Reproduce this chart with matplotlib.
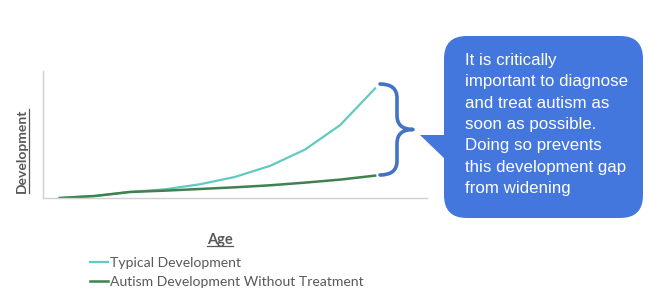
import matplotlib.pyplot as plt
from matplotlib.patches import FancyBboxPatch, Polygon, PathPatch
from matplotlib.path import Path
from matplotlib.lines import Line2D

# Data (arbitrary development units)
age = list(range(10))
typical = [0, 6, 18, 26, 41, 63, 96, 145, 218, 328]
autism = [0, 6, 18, 22, 27, 32, 38, 46, 55, 67]
series_names = ['Typical Development', 'Autism Development Without Treatment']
callout_text = ('It is critically\nimportant to diagnose\nand treat autism as\n'
                'soon as possible.\nDoing so prevents\nthis development gap\nfrom widening')

W, H = 649, 307
fig = plt.figure(figsize=(W / 100, H / 100), dpi=100)
ax = fig.add_axes([43 / W, 1 - 198 / H, (427 - 43) / W, (198 - 71) / H])


def px(x, y):
    return (x / W, 1 - y / H)


l1, = ax.plot(age, typical, color='#62C9C3', lw=1.6)
l2, = ax.plot(age, autism, color='#3F8150', lw=1.8)
ax.set_xlim(-0.476, 10.48)
ax.set_ylim(0, 380)
ax.set_xticks([])
ax.set_yticks([])
for s in ['top', 'right']:
    ax.spines[s].set_visible(False)
for s in ['left', 'bottom']:
    ax.spines[s].set_color('#D0D0D0')
    ax.spines[s].set_linewidth(1.0)

grey = '#595959'
ylab = fig.text(22 / W, 1 - 151 / H, 'Development', rotation=90, ha='center', va='center',
                color=grey, fontsize=10, fontweight='bold', family='Lato')
xlab = fig.text(220 / W, 1 - 240 / H, 'Age', ha='center', va='center',
                color=grey, fontsize=10.5, fontweight='bold', family='Lato')

# underline the axis titles
fig.canvas.draw()
r = fig.canvas.get_renderer()
inv = fig.transFigure.inverted()
bb = xlab.get_window_extent(r).transformed(inv)
fig.lines.append(Line2D([bb.x0, bb.x1], [bb.y0 + 0.004, bb.y0 + 0.004],
                        transform=fig.transFigure, color=grey, lw=0.9))
bb = ylab.get_window_extent(r).transformed(inv)
fig.lines.append(Line2D([bb.x1 + 0.001, bb.x1 + 0.001], [bb.y0, bb.y1],
                        transform=fig.transFigure, color=grey, lw=0.9))

fig.legend([l1, l2], series_names, loc='upper left',
           bbox_to_anchor=(90 / W, 1 - 257 / H), frameon=False,
           prop={'family': 'Lato', 'size': 10.1}, labelcolor=grey,
           handlelength=1.3, handletextpad=0.1, labelspacing=0.5,
           borderpad=0, borderaxespad=0)

# curly brace
bx, top, bot, tip = 380, 84, 175, 413
mid = (top + bot) / 2
verts = [px(bx, top), px(bx + 17, top), px(bx + 17, top + 14),
         px(bx + 17, mid - 14), px(bx + 17, mid), px(tip, mid),
         px(bx + 17, mid), px(bx + 17, mid + 14),
         px(bx + 17, bot - 14), px(bx + 17, bot), px(bx, bot)]
codes = [Path.MOVETO, Path.CURVE3, Path.CURVE3,
         Path.LINETO, Path.CURVE3, Path.CURVE3,
         Path.CURVE3, Path.CURVE3,
         Path.LINETO, Path.CURVE3, Path.CURVE3]
fig.patches.append(PathPatch(Path(verts, codes), transform=fig.transFigure,
                             fill=False, edgecolor='#4472C4', lw=2.6,
                             capstyle='round', joinstyle='round'))

# callout box
blue = '#4377DD'
box = FancyBboxPatch(px(444, 218), (643 - 444) / W, (218 - 36) / H,
                     boxstyle='round,pad=0,rounding_size=0.035',
                     transform=fig.transFigure, facecolor=blue, edgecolor='none',
                     mutation_aspect=W / H)
fig.patches.append(box)
fig.patches.append(Polygon([px(420, 135), px(446, 135), px(446, 160)], closed=True,
                           transform=fig.transFigure, facecolor=blue, edgecolor='none'))
fig.text(465 / W, 1 - 53 / H, callout_text, ha='left', va='top', color='white',
         fontsize=12.2, family='Liberation Sans', linespacing=1.53)

fig.savefig('out.png', dpi=100, facecolor='white')
